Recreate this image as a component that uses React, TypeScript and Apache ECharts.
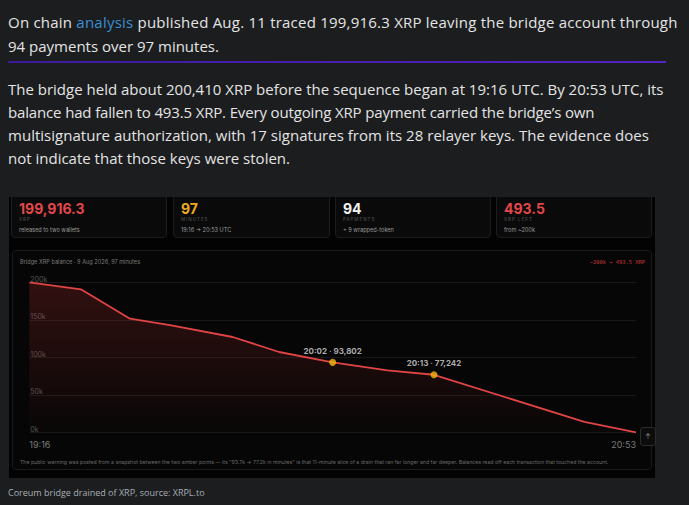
import React, { useEffect, useRef } from "react";
import * as echarts from "echarts";

// ---- data ----
const paymentIndex = [0, 8, 15.6, 22, 31.5, 38.7, 47, 55.5, 62.7, 86, 94];
const balance = [200410, 191200, 152000, 143200, 127600, 107600, 93802, 83200, 77242, 14300, 493.5];
const highlightIdx = [47, 62.7];
const highlightBalance = [93802, 77242];
const highlightTimes = ["20:02", "20:13"];
const axisTimes = ["19:16", "20:53"];
const yTicks = [0, 50000, 100000, 150000, 200000];

const cardValues = ["199,916.3", "97", "94", "493.5"];
const cardLabels = ["XRP", "MINUTES", "PAYMENTS", "XRP LEFT"];
const cardSubs = ["released to two wallets", "19:16 → 20:53 UTC", "+ 9 wrapped-token", "from ~200k"];
const cardColors = ["#e2474a", "#e9a822", "#f2f2f2", "#e2474a"];

const para2Lines = [
  "The bridge held about 200,410 XRP before the sequence began at 19:16 UTC. By 20:53 UTC, its",
  "balance had fallen to 493.5 XRP. Every outgoing XRP payment carried the bridge’s own",
  "multisignature authorization, with 17 signatures from its 28 relayer keys. The evidence does",
  "not indicate that those keys were stolen.",
];
const para2Spacing = [0, -0.15, 0.02, 0];

const pageBg = "#1c1d1f";
const sans = "Inter, 'Noto Sans', sans-serif";
const bodyFont = "'Open Sans', 'Noto Sans', sans-serif";

function Chart() {
  const ref = useRef<HTMLDivElement>(null);
  useEffect(() => {
    if (!ref.current) return;
    const chart = echarts.init(ref.current, undefined, { renderer: "svg" });
    chart.setOption({
      animation: false,
      backgroundColor: "transparent",
      grid: { left: 16.3, right: 17, top: 31.7, bottom: 38.3 },
      graphic: [
        {
          type: "text",
          left: 7,
          top: 8,
          style: { text: "Bridge XRP balance · 9 Aug 2026, 97 minutes", fill: "#7a7a7a", font: `5.6px ${sans}` },
        },
        {
          type: "text",
          right: 8,
          top: 8,
          style: { text: "~200k → 493.5 XRP", fill: "#c93a3a", font: "5.4px 'DejaVu Sans Mono', monospace" },
        },
        {
          type: "text",
          left: 7,
          top: 208,
          style: {
            text:
              "The public warning was posted from a snapshot between the two amber points — its \"93.7k → 77.2k in minutes\" is that 11-minute slice of a drain that ran far longer and far deeper. Balances read off each transaction that touched the account.",
            fill: "#6a6a6a",
            font: `5.2px ${sans}`,
          },
        },
      ],
      xAxis: {
        type: "value",
        min: 0,
        max: 94,
        interval: 94,
        axisLine: { show: false },
        axisTick: { show: false },
        splitLine: { show: false },
        axisLabel: {
          color: "#7a7a7a",
          fontSize: 9,
          fontFamily: sans,
          margin: 7,
          alignMinLabel: "left",
          alignMaxLabel: "right",
          formatter: (v: number) => (v === 0 ? axisTimes[0] : axisTimes[1]),
        },
      },
      yAxis: {
        type: "value",
        min: 0,
        max: 200000,
        interval: 50000,
        axisLine: { show: false },
        axisTick: { show: false },
        splitLine: { lineStyle: { color: "#181818", width: 1 } },
        axisLabel: {
          inside: true,
          margin: 1,
          verticalAlign: "bottom",
          color: "#555",
          fontSize: 7,
          fontFamily: sans,
          formatter: (v: number) => (yTicks.includes(v) ? `${v / 1000}k` : ""),
        },
      },
      series: [
        {
          type: "line",
          data: paymentIndex.map((x, i) => [x, balance[i]]),
          showSymbol: false,
          lineStyle: { color: "#e04444", width: 1.8 },
          areaStyle: {
            color: new echarts.graphic.LinearGradient(0, 0, 0, 1, [
              { offset: 0, color: "rgba(200,50,50,0.32)" },
              { offset: 1, color: "rgba(200,50,50,0.02)" },
            ]),
          },
          z: 2,
        },
        {
          type: "scatter",
          data: highlightIdx.map((x, i) => [x, highlightBalance[i]]),
          symbolSize: 7,
          itemStyle: { color: "#f6b90e" },
          label: {
            show: true,
            position: "top",
            distance: 4,
            color: "#d8d8d8",
            fontSize: 8,
            fontWeight: "bold",
            fontFamily: sans,
            formatter: (p: any) =>
              `${highlightTimes[p.dataIndex]} · ${highlightBalance[p.dataIndex].toLocaleString("en-US")}`,
          },
          z: 3,
        },
      ],
    });
    return () => chart.dispose();
  }, []);
  return <div ref={ref} style={{ position: "absolute", left: 0, top: 0, width: 640, height: 220 }} />;
}

export default function App() {
  const lineStyle: React.CSSProperties = {
    position: "absolute",
    left: 8,
    whiteSpace: "nowrap",
    color: "#e4e4e4",
    fontFamily: bodyFont,
    fontSize: 15,
  };
  const cardLefts = [2, 164, 326, 487];
  const cardWidths = [156, 157, 156, 156];
  return (
    <div
      style={{
        position: "fixed",
        left: 0,
        top: 0,
        width: 689,
        height: 505,
        background: pageBg,
        overflow: "hidden",
      }}
    >
      <div style={{ ...lineStyle, top: 10, lineHeight: "24px", letterSpacing: 0.22 }}>
        On chain <span style={{ color: "#3b8fd6" }}>analysis</span> published Aug. 11 traced 199,916.3 XRP leaving
        the bridge account through
      </div>
      <div style={{ ...lineStyle, top: 34, lineHeight: "24px" }}>94 payments over 97 minutes.</div>
      <div
        style={{
          position: "absolute",
          left: 8,
          top: 61,
          width: 658,
          height: 2,
          background: "linear-gradient(90deg, #3d1a9c, #5522c4)",
        }}
      />
      {para2Lines.map((t, i) => (
        <div key={i} style={{ ...lineStyle, top: 77.5 + i * 23, lineHeight: "23px", letterSpacing: para2Spacing[i] }}>
          {t}
        </div>
      ))}

      <div
        style={{
          position: "absolute",
          left: 9,
          top: 197,
          width: 646,
          height: 281,
          background: "#030303",
          overflow: "hidden",
        }}
      >
        {cardValues.map((v, i) => (
          <div
            key={i}
            style={{
              position: "absolute",
              left: cardLefts[i],
              top: -10,
              width: cardWidths[i],
              height: 51,
              boxSizing: "border-box",
              background: "#0a0a0a",
              border: "1px solid #1d1d1d",
              borderRadius: 4,
              fontFamily: sans,
            }}
          >
            <div
              style={{
                position: "absolute",
                left: 7,
                top: 12,
                fontSize: 14,
                lineHeight: "18px",
                fontWeight: 700,
                color: cardColors[i],
              }}
            >
              {v}
            </div>
            <div
              style={{
                position: "absolute",
                left: 7,
                top: 29,
                fontSize: 4.5,
                lineHeight: "6px",
                letterSpacing: 1,
                color: "#555",
              }}
            >
              {cardLabels[i]}
            </div>
            <div
              style={{
                position: "absolute",
                left: 7,
                top: 38,
                fontSize: 5.6,
                lineHeight: "8px",
                color: "#9a9a9a",
              }}
            >
              {cardSubs[i]}
            </div>
          </div>
        ))}
        <div
          style={{
            position: "absolute",
            left: 3,
            top: 53,
            width: 640,
            height: 220,
            boxSizing: "border-box",
            background: "#060606",
            border: "1px solid #1b1b1b",
            borderRadius: 4,
          }}
        >
          <Chart />
        </div>
      </div>

      <div
        style={{
          position: "absolute",
          left: 640,
          top: 427,
          width: 16,
          height: 19,
          boxSizing: "border-box",
          border: "1px solid #2c2c2c",
          borderRadius: 3,
          background: "#0c0c0c",
          color: "#8a8a8a",
          fontSize: 7,
          lineHeight: "17px",
          textAlign: "center",
          fontFamily: sans,
        }}
      >
        ↑
      </div>

      <div
        style={{
          position: "absolute",
          left: 8,
          top: 486,
          fontSize: 9,
          lineHeight: "14px",
          color: "#a8adb4",
          fontFamily: bodyFont,
        }}
      >
        Coreum bridge drained of XRP, source: XRPL.to
      </div>
    </div>
  );
}
